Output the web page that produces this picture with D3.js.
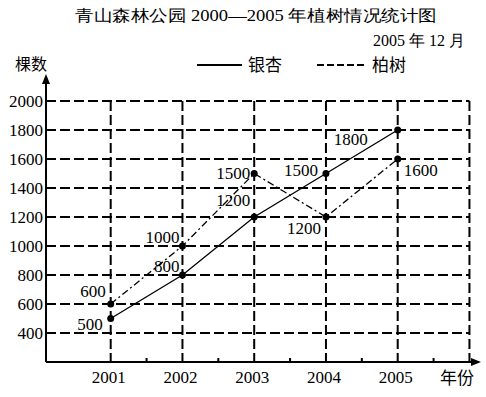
<!DOCTYPE html>
<meta charset="utf-8">
<style>
  body { margin: 0; background: #fff; }
  text { fill: #000; }
  .num { font-family: "Liberation Serif", "DejaVu Serif", serif; font-size: 17px; }
  .cjk { font-family: "Noto Sans CJK SC", sans-serif; font-size: 16px; }
</style>
<body>
<svg></svg>
<script src="https://cdn.jsdelivr.net/npm/d3@7"></script>
<script>
  // chart data
  var years = [2001, 2002, 2003, 2004, 2005];
  var ginkgo = [500, 800, 1200, 1500, 1800];    // 银杏
  var cypress = [600, 1000, 1500, 1200, 1600];  // 柏树
  var yTicks = [400, 600, 800, 1000, 1200, 1400, 1600, 1800, 2000];
  var halfTicks = [2001.5, 2002.5, 2003.5, 2004.5, 2005.5];

  // label offsets (dx, dy from the point, anchor)
  var ginkgoOff = [[-8, 11, "end"], [-3, -3, "end"], [-4, -11, "end"], [-8, 2, "end"], [-30, 15, "end"]];
  var cypressOff = [[-5, -7, "end"], [-3, -3, "end"], [-4, 5, "end"], [-5, 17, "end"], [6, 17, "start"]];

  var width = 486, height = 397;
  var svg = d3.select("svg").attr("width", width).attr("height", height);

  var x = d3.scaleLinear().domain([2001, 2005]).range([110.7, 397.7]);
  var y = d3.scaleLinear().domain([200, 2000]).range([362, 101]);
  var axisX = 46, axisY = y(200);

  // grid ----------------------------------------------------------
  var grid = svg.append("g")
      .attr("stroke", "#000")
      .attr("stroke-width", 2)
      .attr("stroke-dasharray", "10,4")
      .attr("fill", "none");

  grid.selectAll(".h").data(yTicks).enter().append("line")
      .attr("x1", axisX).attr("x2", x(2006))
      .attr("y1", function(d){ return y(d); })
      .attr("y2", function(d){ return y(d); });

  grid.selectAll(".v").data(years.concat([2006])).enter().append("line")
      .attr("x1", function(d){ return x(d); })
      .attr("x2", function(d){ return x(d); })
      .attr("y1", y(2000)).attr("y2", axisY);

  // axes ----------------------------------------------------------
  var axes = svg.append("g").attr("stroke", "#000").attr("stroke-width", 2);
  axes.append("line").attr("x1", axisX).attr("x2", axisX).attr("y1", axisY).attr("y2", 80);
  axes.append("line").attr("x1", axisX).attr("x2", 474).attr("y1", axisY).attr("y2", axisY);
  svg.append("path").attr("d", "M46,74 L42,84 L50,84 Z").attr("fill", "#000");
  svg.append("path").attr("d", "M481,362 L471,358 L471,366 Z").attr("fill", "#000");

  axes.selectAll(".t").data(halfTicks).enter().append("line")
      .attr("x1", function(d){ return x(d); })
      .attr("x2", function(d){ return x(d); })
      .attr("y1", axisY).attr("y2", axisY - 4);

  // tick labels
  svg.selectAll(".yl").data(yTicks).enter().append("text")
      .attr("class", "num")
      .attr("x", 43).attr("y", function(d){ return y(d) + 6; })
      .attr("text-anchor", "end")
      .text(function(d){ return d; });

  svg.selectAll(".xl").data(years).enter().append("text")
      .attr("class", "num")
      .attr("x", function(d){ return x(d) - 2; }).attr("y", 383)
      .attr("text-anchor", "middle")
      .text(function(d){ return d; });

  // series --------------------------------------------------------
  var line = d3.line()
      .x(function(d, i){ return x(years[i]); })
      .y(function(d){ return y(d); });

  svg.append("path").datum(ginkgo)
      .attr("d", line).attr("fill", "none")
      .attr("stroke", "#000").attr("stroke-width", 1.3);

  svg.append("path").datum(cypress)
      .attr("d", line).attr("fill", "none")
      .attr("stroke", "#000").attr("stroke-width", 1.3)
      .attr("stroke-dasharray", "7,3,2,3");

  function drawPoints(values, offsets)
  {
    svg.append("g").selectAll("circle").data(values).enter().append("circle")
        .attr("cx", function(d, i){ return x(years[i]); })
        .attr("cy", function(d){ return y(d); })
        .attr("r", 3.5).attr("fill", "#000");

    svg.append("g").selectAll("text").data(values).enter().append("text")
        .attr("class", "num")
        .attr("x", function(d, i){ return x(years[i]) + offsets[i][0]; })
        .attr("y", function(d, i){ return y(d) + offsets[i][1]; })
        .attr("text-anchor", function(d, i){ return offsets[i][2]; })
        .text(function(d){ return d; });
  }
  drawPoints(ginkgo, ginkgoOff);
  drawPoints(cypress, cypressOff);

  // titles and legend ---------------------------------------------
  svg.append("text").attr("class", "num").attr("x", 75).attr("y", 21)
      .attr("textLength", 362).attr("lengthAdjust", "spacingAndGlyphs")
      .style("font-size", "16px")
      .text("青山森林公园 2000—2005 年植树情况统计图");

  svg.append("text").attr("class", "num").attr("x", 465).attr("y", 46)
      .attr("text-anchor", "end")
      .style("font-size", "16px")
      .text("2005 年 12 月");

  svg.append("text").attr("class", "cjk").attr("x", 15).attr("y", 70)
      .text("棵数");

  svg.append("text").attr("class", "cjk").attr("x", 440).attr("y", 384)
      .style("font-size", "17px")
      .text("年份");

  svg.append("line").attr("x1", 197).attr("x2", 242).attr("y1", 65).attr("y2", 65)
      .attr("stroke", "#000").attr("stroke-width", 2);
  svg.append("text").attr("class", "cjk").attr("x", 248).attr("y", 71)
      .style("font-size", "17px").text("银杏");

  svg.append("line").attr("x1", 317).attr("x2", 367).attr("y1", 65).attr("y2", 65)
      .attr("stroke", "#000").attr("stroke-width", 2)
      .attr("stroke-dasharray", "7,3");
  svg.append("text").attr("class", "cjk").attr("x", 372).attr("y", 71)
      .style("font-size", "17px").text("柏树");
</script>
</body>
